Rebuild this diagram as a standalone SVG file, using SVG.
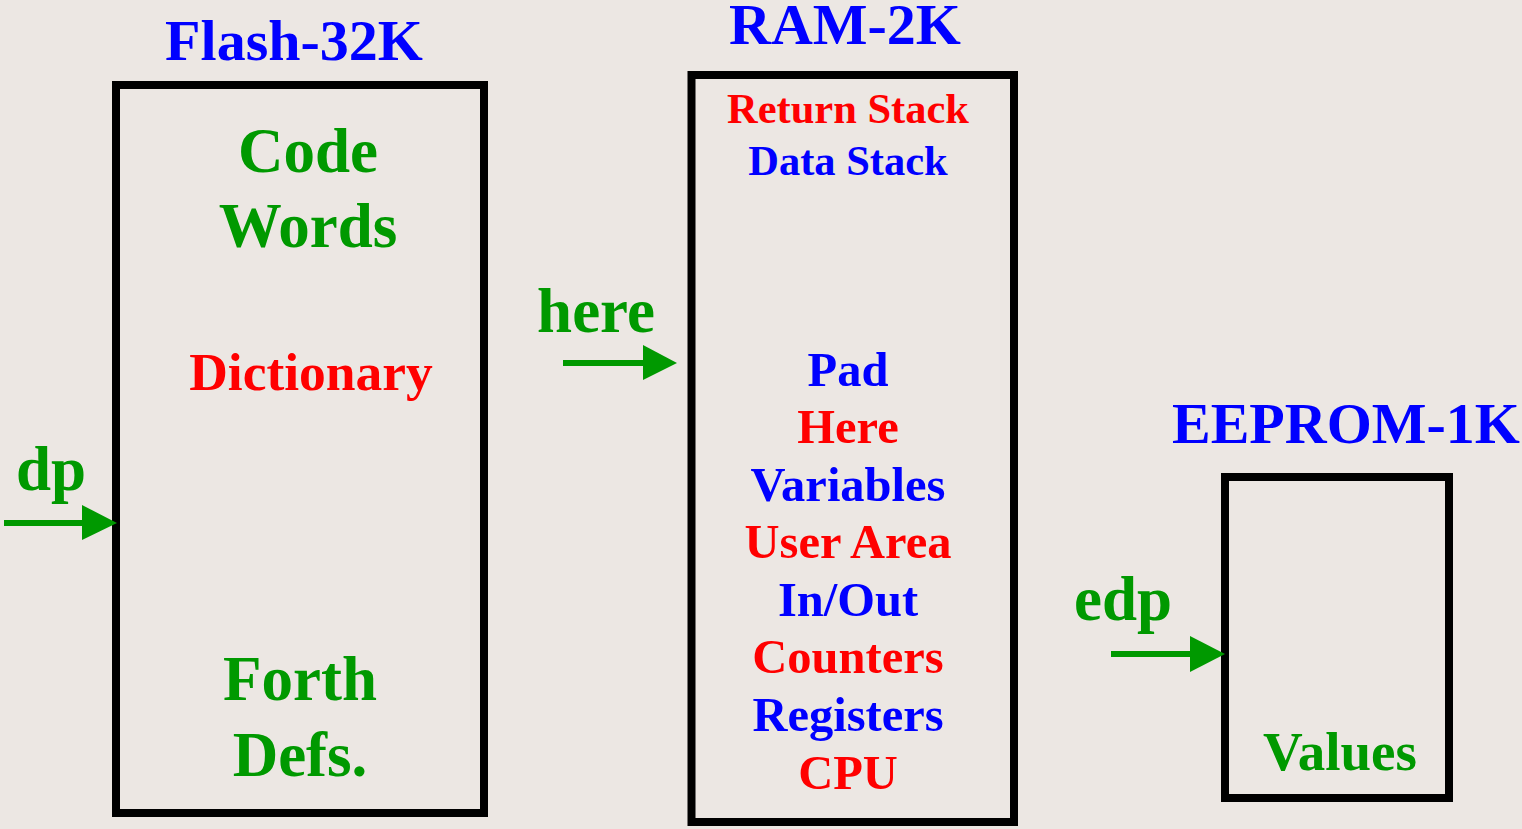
<svg xmlns="http://www.w3.org/2000/svg" width="1522" height="829" viewBox="0 0 1522 829">
  <style>
    .box { fill: none; stroke: #000; stroke-width: 8; }
    text { font-family: "Liberation Serif", "Times New Roman", serif; font-weight: bold; text-anchor: middle; }
    .title { fill: #0000ff; font-size: 58px; }
    .big { fill: #009900; font-size: 63px; }
    .g { fill: #009900; }
    .r { fill: #ff0000; }
    .b { fill: #0000ff; }
    .stack { font-size: 42.5px; }
    .area { font-size: 48.5px; }
    .ptr { stroke: #009900; stroke-width: 6; fill: none; }
    .head { fill: #009900; }
  </style>
  <rect width="1522" height="829" fill="#ece7e3"/>

  <!-- Flash memory -->
  <g id="flash">
    <text class="title" x="294" y="60">Flash-32K</text>
    <rect class="box" x="116" y="85" width="368" height="728"/>
    <text class="big" x="308" y="172">Code</text>
    <text class="big" x="308" y="247">Words</text>
    <text class="r" x="311" y="390" font-size="53.5">Dictionary</text>
    <text class="big" x="300" y="700">Forth</text>
    <text class="big" x="300" y="776">Defs.</text>
  </g>

  <!-- RAM -->
  <g id="ram">
    <text class="title" x="845" y="44">RAM-2K</text>
    <rect class="box" x="691.5" y="75" width="322.5" height="747"/>
    <text class="r stack" x="848" y="123">Return Stack</text>
    <text class="b stack" x="848" y="175">Data Stack</text>
    <text class="b area" x="848" y="386">Pad</text>
    <text class="r area" x="848" y="443">Here</text>
    <text class="b area" x="848" y="501">Variables</text>
    <text class="r area" x="848" y="558">User Area</text>
    <text class="b area" x="848" y="616">In/Out</text>
    <text class="r area" x="848" y="673">Counters</text>
    <text class="b area" x="848" y="731">Registers</text>
    <text class="r area" x="848" y="789">CPU</text>
  </g>

  <!-- EEPROM -->
  <g id="eeprom">
    <text class="title" x="1346" y="443">EEPROM-1K</text>
    <rect class="box" x="1225" y="477" width="224" height="321"/>
    <text class="g" x="1340" y="770" font-size="55">Values</text>
  </g>

  <!-- pointer labels -->
  <g id="labels">
    <text class="big" x="51" y="490">dp</text>
    <text class="big" x="596" y="332">here</text>
    <text class="big" x="1123" y="620">edp</text>
  </g>

  <!-- pointer arrows -->
  <g id="connectors">
    <line class="ptr" x1="4" y1="523" x2="84" y2="523"/>
    <polygon class="head" points="82,505 117,523 82,540"/>
    <line class="ptr" x1="563" y1="363" x2="645" y2="363"/>
    <polygon class="head" points="643,345 677,363 643,380"/>
    <line class="ptr" x1="1111" y1="654" x2="1192" y2="654"/>
    <polygon class="head" points="1190,636 1225,654 1190,672"/>
  </g>
</svg>
